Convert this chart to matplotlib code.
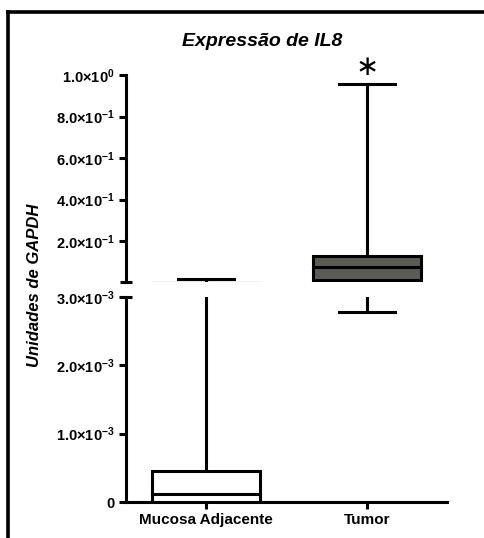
import matplotlib
matplotlib.use("Agg")
import matplotlib.pyplot as plt
from matplotlib import patches
from matplotlib.lines import Line2D

plt.rcParams['font.family'] = ['Liberation Sans', 'DejaVu Sans']
plt.rcParams['mathtext.fontset'] = 'custom'
plt.rcParams['mathtext.rm'] = 'Liberation Sans:bold'
plt.rcParams['mathtext.it'] = 'Liberation Sans:bold'
plt.rcParams['mathtext.bf'] = 'Liberation Sans:bold'

# box plot summary per group
groups = ['Mucosa Adjacente', 'Tumor']
whisker_low = [0.0, 0.00278]
q1 = [0.0, 0.012]
median = [0.00012, 0.075]
q3 = [0.00046, 0.128]
whisker_high = [0.017, 0.957]
box_colors = ['white', '#5b5b55']

# broken y axis: lower and upper segments
lower_ticks = [0, 0.001, 0.002, 0.003]
lower_labels = ['0', '1.0×10$^{-3}$', '2.0×10$^{-3}$', '3.0×10$^{-3}$']
upper_ticks = [0.2, 0.4, 0.6, 0.8, 1.0]
upper_labels = ['2.0×10$^{-1}$', '4.0×10$^{-1}$', '6.0×10$^{-1}$',
                '8.0×10$^{-1}$', '1.0×10$^{0}$']
split = 0.003

W, H = 484, 538
fig = plt.figure(figsize=(W / 100, H / 100), dpi=100)

x0, x1 = 126, 447
ax_up = fig.add_axes([x0 / W, 1 - 282 / H, (x1 - x0) / W, (282 - 75) / H])
ax_lo = fig.add_axes([x0 / W, 1 - 502 / H, (x1 - x0) / W, (502 - 297) / H])

lw = 2.2
half = 0.335
cap = 0.175

for ax in (ax_up, ax_lo):
    for i in range(len(groups)):
        ax.add_patch(patches.Rectangle((i - half, q1[i]), 2 * half, q3[i] - q1[i],
                                       facecolor=box_colors[i], edgecolor='black',
                                       linewidth=lw, zorder=3))
        ax.plot([i - half, i + half], [median[i]] * 2, color='black', lw=lw, zorder=4)
        ax.plot([i, i], [q3[i], whisker_high[i]], color='black', lw=lw, zorder=2)
        ax.plot([i, i], [whisker_low[i], q1[i]], color='black', lw=lw, zorder=2)
        ax.plot([i - cap, i + cap], [whisker_high[i]] * 2, color='black', lw=lw, zorder=2)
        ax.plot([i - cap, i + cap], [whisker_low[i]] * 2, color='black', lw=lw, zorder=2)
    ax.set_xlim(-0.5, 1.5)
    for s in ('top', 'right'):
        ax.spines[s].set_visible(False)
    ax.spines['left'].set_linewidth(lw)
    ax.spines['bottom'].set_linewidth(lw)
    ax.tick_params(axis='both', length=5, width=lw, pad=3)

ax_up.set_ylim(split, 1.0)
ax_up.spines['bottom'].set_visible(False)
ax_up.set_xticks([])
ax_up.set_yticks(upper_ticks)
ax_up.set_yticklabels(upper_labels, fontweight='bold', fontsize=10.5)

ax_lo.set_ylim(0, split)
ax_lo.set_yticks(lower_ticks)
ax_lo.set_yticklabels(lower_labels, fontweight='bold', fontsize=10.5)
ax_lo.set_xticks(range(len(groups)))
ax_lo.set_xticklabels(groups, fontweight='bold', fontsize=11)

# small bars marking the axis break
for ax, yy in ((ax_up, 0), (ax_lo, 1)):
    ax.plot([-0.018, 0.018], [yy, yy], transform=ax.transAxes, color='black',
            lw=lw, clip_on=False, solid_capstyle='butt')

ax_up.annotate('∗', (1, whisker_high[1]), xytext=(0, 2), textcoords='offset points',
               ha='center', va='bottom', fontsize=20, family='DejaVu Sans',
               annotation_clip=False)

fig.text(262 / W, 1 - 42 / H, 'Expressão de IL8', ha='center', va='center',
         fontsize=14, fontweight='bold', fontstyle='italic')
fig.text(35 / W, 1 - 285 / H, 'Unidades de GAPDH', ha='center', va='center',
         rotation=90, fontsize=12, fontweight='bold', fontstyle='italic')

# outer frame on the top and left edges
fig.add_artist(Line2D([6 / W, 1], [1 - 11.5 / H] * 2, color='black', lw=2.6,
                      solid_capstyle='butt'))
fig.add_artist(Line2D([8 / W] * 2, [0, 1 - 10 / H], color='black', lw=2.6,
                      solid_capstyle='butt'))

fig.savefig('out.png', dpi=100)
